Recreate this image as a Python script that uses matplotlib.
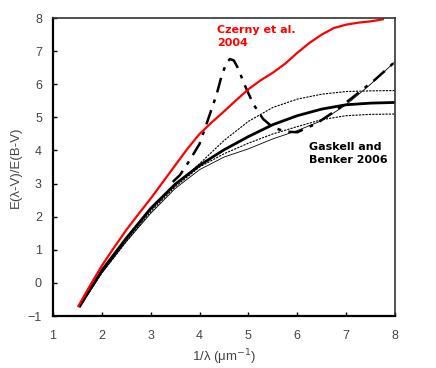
import matplotlib.pyplot as plt
import numpy as np

# Czerny et al. 2004 (red)
x_czerny = [1.52, 1.75, 2.0, 2.25, 2.5, 2.75, 3.0, 3.25, 3.5, 3.75, 4.0, 4.25, 4.5, 4.75, 5.0,
            5.25, 5.5, 5.75, 6.0, 6.25, 6.5, 6.75, 7.0, 7.25, 7.5, 7.75]
y_czerny = [-0.70, -0.10, 0.52, 1.07, 1.6, 2.08, 2.55, 3.05, 3.55, 4.05, 4.5, 4.85, 5.18, 5.52,
            5.85, 6.12, 6.35, 6.62, 6.95, 7.25, 7.5, 7.7, 7.8, 7.86, 7.9, 7.96]

# Gaskell and Benker 2006 (mean curve and envelopes)
x_gb = [1.55, 2.0, 2.5, 3.0, 3.5, 4.0, 4.5, 5.0, 5.5, 6.0, 6.5, 7.0, 7.5, 8.0]
y_mean = [-0.70, 0.38, 1.35, 2.25, 2.98, 3.55, 4.02, 4.42, 4.78, 5.05, 5.25, 5.38, 5.43, 5.45]
y_upper = [-0.65, 0.35, 1.30, 2.20, 2.95, 3.60, 4.30, 4.88, 5.30, 5.55, 5.70, 5.78, 5.80, 5.81]
y_lower = [-0.70, 0.30, 1.25, 2.15, 2.90, 3.50, 3.90, 4.22, 4.50, 4.72, 4.93, 5.05, 5.09, 5.10]
y_thin = [-0.72, 0.30, 1.25, 2.10, 2.85, 3.42, 3.80, 4.05, 4.35, 4.60, 4.90, 5.38, 6.00, 6.68]

# curve with the bump
x_bump = [3.45, 3.6, 3.8, 4.0, 4.2, 4.35, 4.45, 4.55, 4.62, 4.7, 4.8, 4.9, 5.1, 5.3, 5.5,
          5.75, 6.0, 6.4, 6.8, 7.2, 7.6, 8.0]
y_bump = [3.05, 3.26, 3.71, 4.2, 5.05, 5.7, 6.25, 6.65, 6.76, 6.72, 6.45, 6.05, 5.4, 4.95, 4.7,
          4.57, 4.55, 4.82, 5.22, 5.68, 6.15, 6.68]

plt.rcParams['font.family'] = ['Liberation Sans', 'DejaVu Sans']

fig = plt.figure(figsize=(4.36, 3.68), dpi=100)
ax = fig.add_axes([0.1216, 0.1413, 0.7844, 0.8097])

ax.plot(x_gb, y_upper, color='black', lw=0.8, ls=(0, (2, 1)))
ax.plot(x_gb, y_lower, color='black', lw=0.8, ls=(0, (2, 1)))
ax.plot(x_gb, y_thin, color='black', lw=0.6)
ax.plot(x_gb, y_mean, color='black', lw=2.0)
ax.plot(x_bump, y_bump, color='black', lw=1.8, ls=(0, (6, 3, 1.5, 3)))
ax.plot(x_czerny, y_czerny, color='#ff0000', lw=1.6)

ax.text(4.36, 7.8, 'Czerny et al.\n2004', color='#ff0000', fontsize=8,
        fontweight='bold', family='DejaVu Sans', va='top', ha='left', linespacing=1.45)
ax.text(6.24, 4.26, 'Gaskell and\nBenker 2006', color='black', fontsize=8,
        fontweight='bold', family='DejaVu Sans', va='top', ha='left', linespacing=1.45)

ax.set_xlim(1, 8)
ax.set_ylim(-1, 8)
ax.set_xticks(range(1, 9))
ax.set_yticks(range(-1, 9))
ax.tick_params(axis='x', pad=10)
ax.tick_params(axis='y', pad=8)
ax.tick_params(direction='in', length=3, width=1, labelsize=9, labelcolor='#444444',
               top=False, right=False)

ax.set_xlabel('1/λ (μm$^{-1}$)', fontsize=9.5, color='#444444', labelpad=4)
ax.set_ylabel('E(λ-V)/E(B-V)', fontsize=9.5, color='#444444', labelpad=4)

for s in ['left', 'bottom']:
    ax.spines[s].set_linewidth(1.6)
    ax.spines[s].set_color('black')
for s in ['top', 'right']:
    ax.spines[s].set_linewidth(1.2)
    ax.spines[s].set_color('#333333')

fig.savefig('out.png', dpi=100)
